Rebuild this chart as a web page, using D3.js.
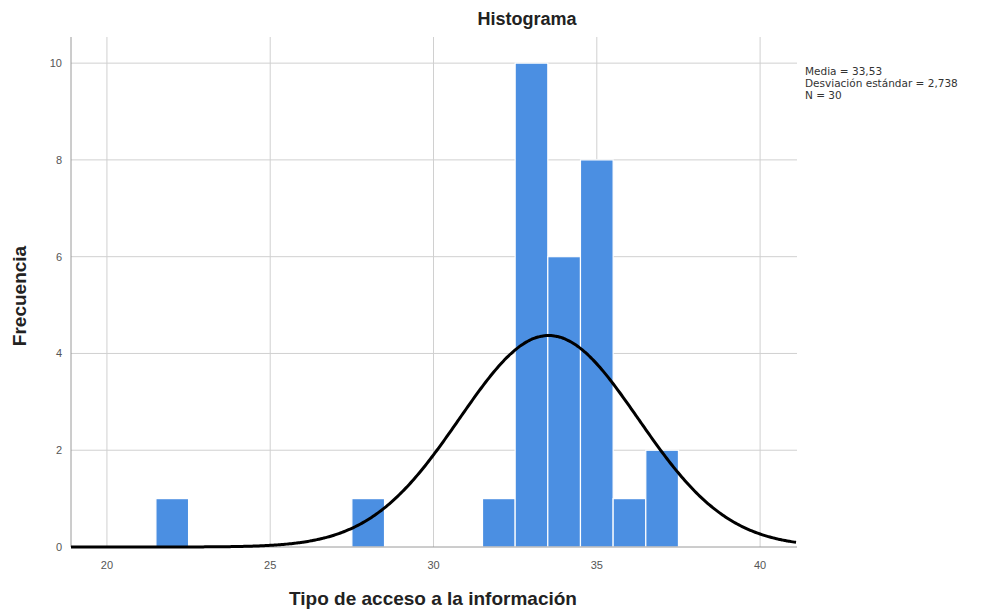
<!DOCTYPE html>
<html><head><meta charset="utf-8">
<script src="https://cdn.jsdelivr.net/npm/d3@7"></script>
<style>body{margin:0;background:#fff;font-family:Arial,"Liberation Sans",sans-serif;}</style>
</head><body>
<svg id="c" width="985" height="615"></svg>
<script>
const binStarts = [21.5, 27.5, 31.5, 32.5, 33.5, 34.5, 35.5, 36.5];
const binWidth = 1;
const counts = [1, 1, 1, 10, 6, 8, 1, 2];
const xTicks = [20, 25, 30, 35, 40];
const yTicks = [0, 2, 4, 6, 8, 10];
const stats = ["Media = 33,53", "Desviación estándar = 2,738", "N = 30"];
const mean = 33.53, sd = 2.738, n = 30;

const svg = d3.select("#c");
const L = 71, R = 797, T = 37, B = 547;
const x = d3.scaleLinear().domain([18.9, 41.13]).range([L, R]);
const y = d3.scaleLinear().domain([0, 10.54]).range([B, T]);

// gridlines
svg.append("g").selectAll("line").data(xTicks).join("line")
  .attr("x1", d => x(d)).attr("x2", d => x(d)).attr("y1", T).attr("y2", B)
  .attr("stroke", "#d0d0d0").attr("stroke-width", 1);
svg.append("g").selectAll("line").data(yTicks.filter(d => d > 0)).join("line")
  .attr("x1", L).attr("x2", R).attr("y1", d => y(d)).attr("y2", d => y(d))
  .attr("stroke", "#d0d0d0").attr("stroke-width", 1);

// bars
svg.append("g").selectAll("rect").data(counts).join("rect")
  .attr("x", (d, i) => x(binStarts[i]))
  .attr("width", (d, i) => x(binStarts[i] + binWidth) - x(binStarts[i]))
  .attr("y", d => y(d)).attr("height", d => B - y(d))
  .attr("fill", "#4b8fe2").attr("stroke", "#ffffff").attr("stroke-width", 1.2);

// axes lines
svg.append("line").attr("x1", L).attr("x2", L).attr("y1", T).attr("y2", B).attr("stroke", "#9a9a9a");
svg.append("line").attr("x1", L).attr("x2", R).attr("y1", B).attr("y2", B).attr("stroke", "#9a9a9a");

// normal curve
const xs = d3.range(18.9, 41.14, 0.05);
const pdf = v => n * binWidth * Math.exp(-0.5 * ((v - mean) / sd) ** 2) / (sd * Math.sqrt(2 * Math.PI));
svg.append("path").datum(xs)
  .attr("d", d3.line().x(d => x(d)).y(d => y(pdf(d))).curve(d3.curveBasis))
  .attr("fill", "none").attr("stroke", "#000").attr("stroke-width", 3);

// tick labels
svg.append("g").selectAll("text").data(xTicks).join("text")
  .attr("x", d => x(d)).attr("y", B + 22).attr("text-anchor", "middle")
  .attr("font-size", 11).attr("fill", "#555").text(d => d);
svg.append("g").selectAll("text").data(yTicks).join("text")
  .attr("x", L - 9).attr("y", d => y(d) + 4).attr("text-anchor", "end")
  .attr("font-size", 11).attr("fill", "#555").text(d => d);

// titles
svg.append("text").attr("x", 527).attr("y", 25).attr("text-anchor", "middle")
  .attr("font-size", 18).attr("font-weight", "bold").attr("fill", "#222").text("Histograma");
svg.append("text").attr("x", 433).attr("y", 605).attr("text-anchor", "middle")
  .attr("font-size", 19).attr("font-weight", "bold").attr("fill", "#222").text("Tipo de acceso a la información");
svg.append("text").attr("transform", "translate(26,296) rotate(-90)").attr("text-anchor", "middle")
  .attr("font-size", 19).attr("font-weight", "bold").attr("fill", "#222").text("Frecuencia");

// stats legend
svg.append("g").selectAll("text").data(stats).join("text")
  .attr("x", 805).attr("y", (d, i) => 75 + i * 12)
  .attr("font-family", "'DejaVu Sans', sans-serif")
  .attr("font-size", 10.5).attr("fill", "#333").text(d => d);
</script>
</body></html>
